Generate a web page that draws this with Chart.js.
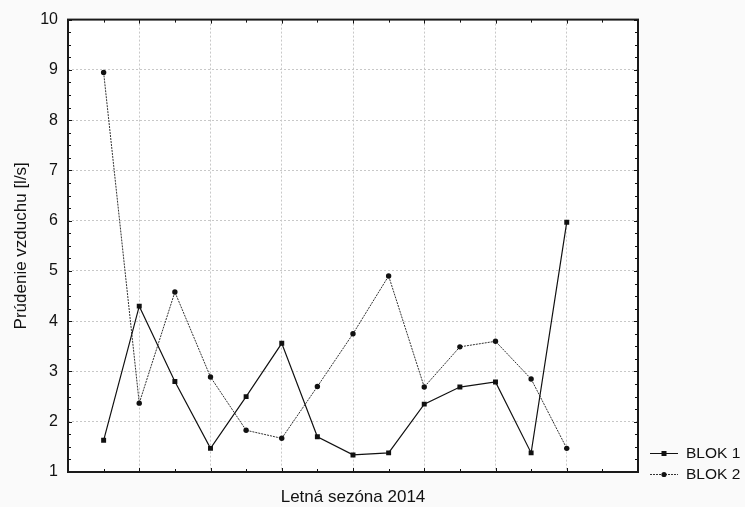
<!DOCTYPE html>
<html>
<head>
<meta charset="utf-8">
<script src="https://cdn.jsdelivr.net/npm/chart.js@4/dist/chart.umd.min.js"></script>
<style>
  html, body { margin: 0; padding: 0; background: #fafafa; }
  #wrap { width: 745px; height: 507px; }
</style>
</head>
<body>
<div id="wrap"><canvas id="flowChart" width="745" height="507"></canvas></div>
<script>
// Dáta odčítané z grafu (14 meraní počas sezóny)
const merania = [1, 2, 3, 4, 5, 6, 7, 8, 9, 10, 11, 12, 13, 14];
const blok1 = [1.63, 4.30, 2.80, 1.47, 2.50, 3.56, 1.70, 1.34, 1.38, 2.35, 2.69, 2.79, 1.38, 5.97];
const blok2 = [8.95, 2.37, 4.58, 2.89, 1.83, 1.67, 2.70, 3.75, 4.90, 2.69, 3.49, 3.60, 2.85, 1.47];
const yTicks = [1, 2, 3, 4, 5, 6, 7, 8, 9, 10];
const seriesNames = ['BLOK 1', 'BLOK 2'];

const FONT = '"Liberation Sans", Arial, sans-serif';

function toPoints(values) {
    return values.map((v, i) => ({ x: merania[i], y: v }));
}

// Pozadie, rámik, vnútorné značky osí, popisy osí a legenda
const framePlugin = {
    id: 'framePlugin',
    beforeDraw(chart) {
        const { ctx, chartArea: a } = chart;
        ctx.save();
        ctx.fillStyle = '#fafafa';
        ctx.fillRect(0, 0, chart.width, chart.height);
        ctx.fillStyle = '#ffffff';
        ctx.fillRect(a.left, a.top, a.right - a.left, a.bottom - a.top);
        ctx.restore();
    },
    afterDraw(chart) {
        const { ctx, chartArea: a } = chart;
        const xs = chart.scales.x, ys = chart.scales.y;
        ctx.save();
        ctx.strokeStyle = '#111';
        ctx.lineWidth = 1;
        // značky na osi x
        for (let v = 1; v <= 15; v++) {
            const px = Math.round(xs.getPixelForValue(v)) + 0.5;
            const len = v % 2 === 0 ? 4 : 3;
            ctx.beginPath();
            ctx.moveTo(px, a.bottom); ctx.lineTo(px, a.bottom - len);
            ctx.moveTo(px, a.top); ctx.lineTo(px, a.top + len);
            ctx.stroke();
        }
        // značky na osi y
        for (let v = 1; v <= 10.001; v += 0.25) {
            const py = Math.round(ys.getPixelForValue(v)) + 0.5;
            const len = Math.abs(v - Math.round(v)) < 0.01 ? 4 : 3;
            ctx.beginPath();
            ctx.moveTo(a.left, py); ctx.lineTo(a.left + len, py);
            ctx.moveTo(a.right, py); ctx.lineTo(a.right - len, py);
            ctx.stroke();
        }
        // rámik
        ctx.lineWidth = 2;
        ctx.strokeStyle = '#1a1a1a';
        ctx.strokeRect(a.left, a.top, a.right - a.left, a.bottom - a.top);

        // popisy osí
        ctx.fillStyle = '#111';
        ctx.font = '17px ' + FONT;
        ctx.textAlign = 'center';
        ctx.textBaseline = 'alphabetic';
        ctx.fillText('Letná sezóna 2014', (a.left + a.right) / 2, 502);
        ctx.save();
        ctx.translate(26, (a.top + a.bottom) / 2);
        ctx.rotate(-Math.PI / 2);
        ctx.fillText('Prúdenie vzduchu [l/s]', 0, 0);
        ctx.restore();

        // legenda
        ctx.font = '15.5px ' + FONT;
        ctx.textBaseline = 'middle';
        const rows = [452.5, 473.5];
        chart.data.datasets.forEach((ds, i) => {
            const y = Math.round(rows[i]) + 0.5;
            ctx.strokeStyle = ds.borderColor;
            ctx.lineWidth = 1;
            ctx.setLineDash(ds.borderDash || []);
            ctx.beginPath();
            ctx.moveTo(650, y); ctx.lineTo(678, y);
            ctx.stroke();
            ctx.setLineDash([]);
            ctx.fillStyle = ds.pointBackgroundColor;
            if (ds.pointStyle === 'rect') {
                ctx.fillRect(661.5, y - 2.5, 5, 5);
            } else {
                ctx.beginPath();
                ctx.arc(664, y, 2.6, 0, Math.PI * 2);
                ctx.fill();
            }
            ctx.fillStyle = '#111';
            ctx.textAlign = 'left';
            ctx.fillText(seriesNames[i], 686, rows[i] + 1);
        });
        ctx.restore();
    }
};

const ctx = document.getElementById('flowChart');
new Chart(ctx, {
    type: 'line',
    data: {
        datasets: [{
            label: seriesNames[0],
            data: toPoints(blok1),
            borderColor: '#111',
            borderWidth: 1.2,
            pointStyle: 'rect',
            pointRadius: 3.5,
            pointBackgroundColor: '#111',
            pointBorderColor: '#111',
            pointBorderWidth: 0,
            tension: 0
        }, {
            label: seriesNames[1],
            data: toPoints(blok2),
            borderColor: '#333',
            borderWidth: 1,
            borderDash: [2, 1],
            pointStyle: 'circle',
            pointRadius: 2.7,
            pointBackgroundColor: '#111',
            pointBorderColor: '#111',
            pointBorderWidth: 0,
            tension: 0
        }]
    },
    options: {
        responsive: false,
        animation: false,
        layout: { padding: { left: 0, top: 17, right: 107, bottom: 0 } },
        plugins: {
            legend: { display: false },
            tooltip: { enabled: false }
        },
        scales: {
            x: {
                type: 'linear',
                min: 0,
                max: 16,
                ticks: { stepSize: 2, display: false },
                grid: { color: '#c8c8c8', lineWidth: 1, tickLength: 0 },
                border: { display: false, dash: [2, 2] },
                afterFit(scale) { scale.height = 35; }
            },
            y: {
                min: 1,
                max: 10,
                afterBuildTicks(scale) { scale.ticks = yTicks.map(v => ({ value: v })); },
                ticks: {
                    color: '#111',
                    padding: 10,
                    font: { family: FONT, size: 16 }
                },
                grid: { color: '#c8c8c8', lineWidth: 1, tickLength: 0 },
                border: { display: false, dash: [2, 2] },
                afterFit(scale) { scale.width = 68; }
            }
        }
    },
    plugins: [framePlugin]
});
</script>
</body>
</html>
